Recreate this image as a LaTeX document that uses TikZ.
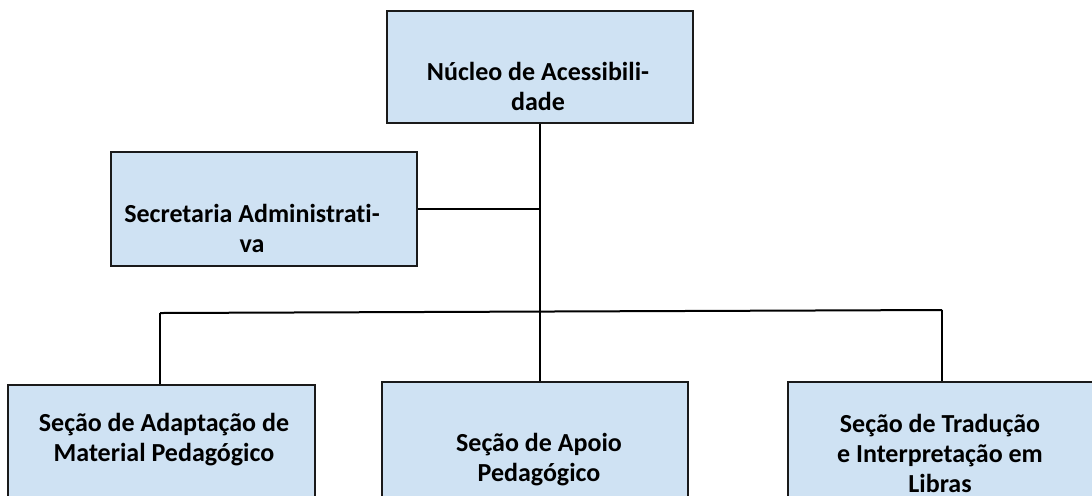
\documentclass[tikz,border=0pt]{standalone}
\usepackage{fontspec}
\setmainfont[RawFeature=-liga]{Carlito}
\definecolor{boxfill}{HTML}{CFE2F3}
\definecolor{boxline}{HTML}{1A1A1A}
\begin{document}
\begin{tikzpicture}[x=0.5pt,y=-0.5pt,
  orgbox/.style={draw=boxline,line width=1pt,fill=boxfill,inner sep=0pt},
  lbl/.style={font=\fontsize{13}{15}\selectfont\bfseries,align=center,inner sep=0pt,anchor=base},
  conn/.style={draw=black,line width=1pt}]
\useasboundingbox (0,0) rectangle (1092,495);
\clip (0,0) rectangle (1092,495);
% boxes
\node[orgbox,minimum width=153pt,minimum height=56pt] (top) at (540,67) {};
\node[orgbox,minimum width=153pt,minimum height=57pt] (sec) at (264,209) {};
\node[orgbox,minimum width=153.5pt,minimum height=70pt] (left) at (161.5,455) {};
\node[orgbox,minimum width=153pt,minimum height=72pt] (mid) at (535,454) {};
\node[orgbox,minimum width=160pt,minimum height=72pt] (right) at (948,454) {};
% texts (anchor = baseline of last line)
\node[lbl] (toptxt) at (538,110) {Núcleo de Acessibili-\\dade};
\node[lbl] (sectxt) at (252,252) {Secretaria Administrati-\\va};
\node[lbl] (lefttxt) at (164,461) {Seção de Adaptação de\\Material Pedagógico};
\node[lbl] (midtxt) at (539,481) {Seção de Apoio\\Pedagógico};
\node[lbl] (righttxt) at (940,492) {Seção de Tradução\\e Interpretação em\\Libras};
% connectors
\coordinate (hl) at (160,313);
\coordinate (hr) at (942,310);
\draw[conn] (top.south) -- (top.south |- mid.north);
\draw[conn] (sec.east) -- (sec.east -| top.south);
\draw[conn] (hl) -- (hr);
\draw[conn] (hl) -- (hl |- left.north);
\draw[conn] (hr) -- (hr |- right.north);
\end{tikzpicture}
\end{document}
